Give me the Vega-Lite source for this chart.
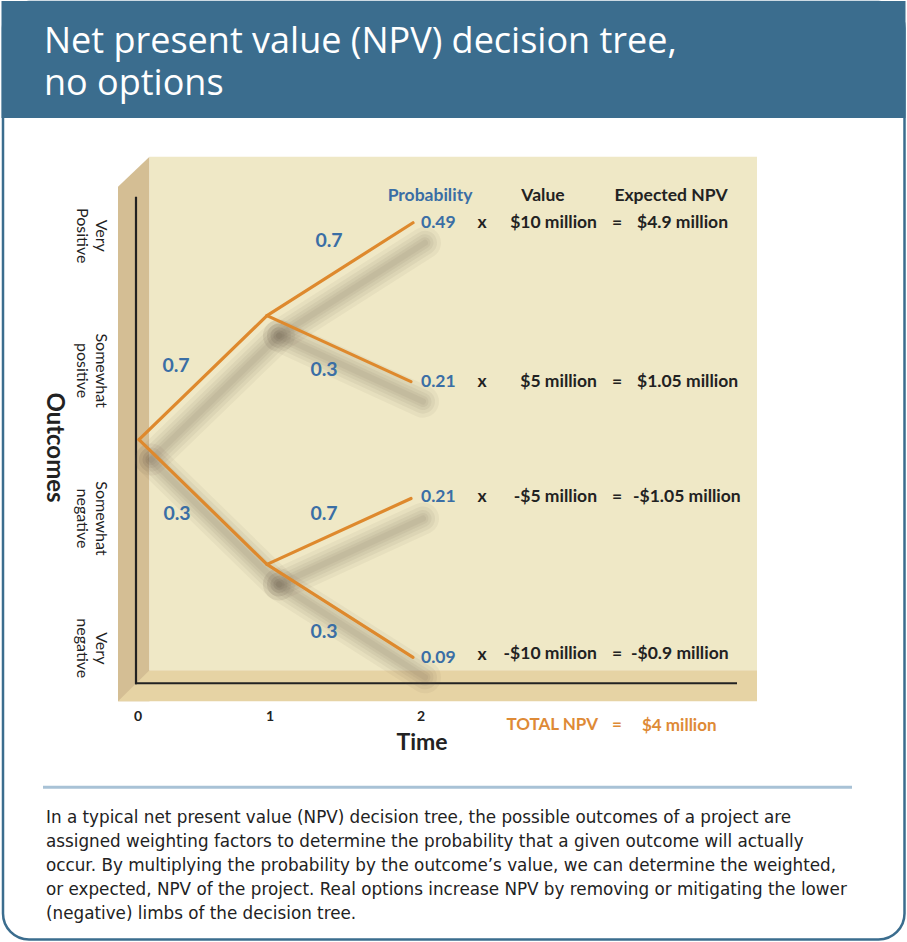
{
  "$schema": "https://vega.github.io/schema/vega-lite/v6.json",
  "width": 907,
  "height": 942,
  "autosize": {"type": "fit", "contains": "padding"},
  "padding": 0,
  "background": "white",
  "config": {"view": {"stroke": null}},
  "datasets": {
    "frame": [{"x": 3, "x2": 904.5, "y": 1, "y2": 939.5}],
    "banner": [{"x": 1.5, "x2": 905.5, "y": 0, "y2": 117}],
    "title": [
      {"x": 44, "y": 52, "text": "Net present value (NPV) decision tree,"},
      {"x": 44, "y": 94, "text": "no options"}
    ],
    "wall": [
      {"x": 118, "y": 186, "y2": 701},
      {"x": 149.5, "y": 156, "y2": 701}
    ],
    "panel": [{"x": 149.5, "x2": 757, "y": 156, "y2": 670}],
    "floor": [
      {"x": 118, "y": 701, "y2": 701},
      {"x": 149.5, "y": 670, "y2": 701},
      {"x": 757, "y": 670, "y2": 701}
    ],
    "axes": [
      {"x": 136, "y": 196, "x2": 136, "y2": 684},
      {"x": 135, "y": 683, "x2": 737, "y2": 683}
    ],
    "branches": [
      {"x": 139, "y": 439, "x2": 267, "y2": 315},
      {"x": 267, "y": 315, "x2": 413, "y2": 222},
      {"x": 267, "y": 315, "x2": 411, "y2": 381},
      {"x": 139, "y": 439, "x2": 267, "y2": 564},
      {"x": 267, "y": 564, "x2": 411, "y2": 498},
      {"x": 267, "y": 564, "x2": 413, "y2": 657}
    ],
    "branchLabels": [
      {"x": 329, "y": 246, "text": "0.7"},
      {"x": 176, "y": 371, "text": "0.7"},
      {"x": 324, "y": 375, "text": "0.3"},
      {"x": 177, "y": 520, "text": "0.3"},
      {"x": 324, "y": 520, "text": "0.7"},
      {"x": 324, "y": 638, "text": "0.3"}
    ],
    "probs": [
      {"x": 421, "y": 227, "text": "0.49"},
      {"x": 421, "y": 386, "text": "0.21"},
      {"x": 421, "y": 502, "text": "0.21"},
      {"x": 421, "y": 663, "text": "0.09"}
    ],
    "probHeader": [{"x": 430, "y": 200, "text": "Probability"}],
    "centerDark": [
      {"x": 543, "y": 200, "text": "Value"},
      {"x": 671, "y": 200, "text": "Expected NPV"},
      {"x": 482, "y": 227, "text": "x"},
      {"x": 482, "y": 386, "text": "x"},
      {"x": 482, "y": 502, "text": "x"},
      {"x": 482, "y": 660, "text": "x"},
      {"x": 617, "y": 227, "text": "="},
      {"x": 617, "y": 386, "text": "="},
      {"x": 617, "y": 502, "text": "="},
      {"x": 617, "y": 659, "text": "="}
    ],
    "values": [
      {"x": 597, "y": 227, "text": "$10 million"},
      {"x": 597, "y": 386, "text": "$5 million"},
      {"x": 597, "y": 502, "text": "-$5 million"},
      {"x": 597, "y": 659, "text": "-$10 million"}
    ],
    "expected": [
      {"x": 637, "y": 227, "text": "$4.9 million"},
      {"x": 637, "y": 386, "text": "$1.05 million"},
      {"x": 633, "y": 502, "text": "-$1.05 million"},
      {"x": 631, "y": 659, "text": "-$0.9 million"}
    ],
    "ticks": [
      {"x": 138, "y": 721, "text": "0"},
      {"x": 270, "y": 721, "text": "1"},
      {"x": 421, "y": 721, "text": "2"}
    ],
    "timeTitle": [{"x": 422, "y": 750, "text": "Time"}],
    "outcomes": [
      {"x": 101, "y": 235, "text": "Very\nPositive"},
      {"x": 101, "y": 370, "text": "Somewhat\npositive"},
      {"x": 101, "y": 518, "text": "Somewhat\nnegative"},
      {"x": 101, "y": 648, "text": "Very\nnegative"}
    ],
    "outcomesTitle": [{"x": 54, "y": 447, "text": "Outcomes"}],
    "totalRight": [{"x": 598, "y": 730, "text": "TOTAL NPV"}],
    "totalCenter": [{"x": 617, "y": 730, "text": "="}],
    "totalLeft": [{"x": 642, "y": 731, "text": "$4 million"}],
    "divider": [{"x": 43, "x2": 852, "y": 787, "y2": 787}],
    "caption": [
      {"x": 46, "y": 823, "text": "In a typical net present value (NPV) decision tree, the possible outcomes of a project are"},
      {"x": 46, "y": 847, "text": "assigned weighting factors to determine the probability that a given outcome will actually"},
      {"x": 46, "y": 871, "text": "occur. By multiplying the probability by the outcome’s value, we can determine the weighted,"},
      {"x": 46, "y": 895, "text": "or expected, NPV of the project. Real options increase NPV by removing or mitigating the lower"},
      {"x": 46, "y": 919, "text": "(negative) limbs of the decision tree."}
    ]
  },
  "encoding": {
    "x": {"field": "x", "type": "quantitative", "scale": {"domain": [0, 907], "nice": false, "zero": false}, "axis": null},
    "y": {"field": "y", "type": "quantitative", "scale": {"domain": [0, 942], "nice": false, "zero": false, "reverse": true}, "axis": null}
  },
  "layer": [
    {"data": {"name": "frame"}, "mark": {"type": "rect", "cornerRadius": 26, "fill": "white", "stroke": "#3b6d8e", "strokeWidth": 2.5},
     "encoding": {"x2": {"field": "x2"}, "y2": {"field": "y2"}}},
    {"data": {"name": "banner"}, "mark": {"type": "rect", "fill": "#3b6d8e"},
     "encoding": {"x2": {"field": "x2"}, "y2": {"field": "y2"}}},
    {"data": {"name": "title"}, "mark": {"type": "text", "align": "left", "baseline": "alphabetic", "font": "Open Sans", "fontSize": 36, "color": "white"},
     "encoding": {"text": {"field": "text"}}},
    {"data": {"name": "wall"}, "mark": {"type": "area", "orient": "vertical", "color": "#d4be94"},
     "encoding": {"y2": {"field": "y2"}}},
    {"data": {"name": "panel"}, "mark": {"type": "rect", "fill": "#efe8c6"},
     "encoding": {"x2": {"field": "x2"}, "y2": {"field": "y2"}}},
    {"data": {"name": "floor"}, "mark": {"type": "area", "orient": "vertical", "color": "#e6d3a4"},
     "encoding": {"y2": {"field": "y2"}}},
    {"data": {"name": "axes"}, "mark": {"type": "rule", "color": "#222222", "strokeWidth": 2.2},
     "encoding": {"x2": {"field": "x2"}, "y2": {"field": "y2"}}},
    {"data": {"name": "branches"}, "mark": {"type": "rule", "color": "#5e5a44", "opacity": 0.06, "strokeWidth": 32, "strokeCap": "round", "xOffset": 12, "x2Offset": 12, "yOffset": 20, "y2Offset": 20},
     "encoding": {"x2": {"field": "x2"}, "y2": {"field": "y2"}}},
    {"data": {"name": "branches"}, "mark": {"type": "rule", "color": "#5e5a44", "opacity": 0.07, "strokeWidth": 24, "strokeCap": "round", "xOffset": 12, "x2Offset": 12, "yOffset": 20, "y2Offset": 20},
     "encoding": {"x2": {"field": "x2"}, "y2": {"field": "y2"}}},
    {"data": {"name": "branches"}, "mark": {"type": "rule", "color": "#5e5a44", "opacity": 0.07, "strokeWidth": 17, "strokeCap": "round", "xOffset": 12, "x2Offset": 12, "yOffset": 20, "y2Offset": 20},
     "encoding": {"x2": {"field": "x2"}, "y2": {"field": "y2"}}},
    {"data": {"name": "branches"}, "mark": {"type": "rule", "color": "#5e5a44", "opacity": 0.07, "strokeWidth": 11, "strokeCap": "round", "xOffset": 12, "x2Offset": 12, "yOffset": 20, "y2Offset": 20},
     "encoding": {"x2": {"field": "x2"}, "y2": {"field": "y2"}}},
    {"data": {"name": "branches"}, "mark": {"type": "rule", "color": "#5e5a44", "opacity": 0.07, "strokeWidth": 6, "strokeCap": "round", "xOffset": 12, "x2Offset": 12, "yOffset": 20, "y2Offset": 20},
     "encoding": {"x2": {"field": "x2"}, "y2": {"field": "y2"}}},
    {"data": {"name": "branches"}, "mark": {"type": "rule", "color": "#de892d", "strokeWidth": 3.2, "strokeCap": "round"},
     "encoding": {"x2": {"field": "x2"}, "y2": {"field": "y2"}}},
    {"data": {"name": "branchLabels"}, "mark": {"type": "text", "align": "center", "baseline": "alphabetic", "font": "Lato", "fontWeight": "bold", "fontSize": 19.5, "color": "#3a6ea5"},
     "encoding": {"text": {"field": "text"}}},
    {"data": {"name": "probs"}, "mark": {"type": "text", "align": "left", "baseline": "alphabetic", "font": "Lato", "fontWeight": "bold", "fontSize": 17.5, "color": "#3a6ea5"},
     "encoding": {"text": {"field": "text"}}},
    {"data": {"name": "probHeader"}, "mark": {"type": "text", "align": "center", "baseline": "alphabetic", "font": "Lato", "fontWeight": "bold", "fontSize": 17.5, "color": "#3a6ea5"},
     "encoding": {"text": {"field": "text"}}},
    {"data": {"name": "centerDark"}, "mark": {"type": "text", "align": "center", "baseline": "alphabetic", "font": "Lato", "fontWeight": "bold", "fontSize": 17.5, "color": "#222222"},
     "encoding": {"text": {"field": "text"}}},
    {"data": {"name": "values"}, "mark": {"type": "text", "align": "right", "baseline": "alphabetic", "font": "Lato", "fontWeight": "bold", "fontSize": 17.5, "color": "#222222"},
     "encoding": {"text": {"field": "text"}}},
    {"data": {"name": "expected"}, "mark": {"type": "text", "align": "left", "baseline": "alphabetic", "font": "Lato", "fontWeight": "bold", "fontSize": 17.5, "color": "#222222"},
     "encoding": {"text": {"field": "text"}}},
    {"data": {"name": "ticks"}, "mark": {"type": "text", "align": "center", "baseline": "alphabetic", "font": "Lato", "fontWeight": "bold", "fontSize": 14, "color": "#222222"},
     "encoding": {"text": {"field": "text"}}},
    {"data": {"name": "timeTitle"}, "mark": {"type": "text", "align": "center", "baseline": "alphabetic", "font": "Lato", "fontWeight": "bold", "fontSize": 23, "color": "#222222"},
     "encoding": {"text": {"field": "text"}}},
    {"data": {"name": "outcomes"}, "mark": {"type": "text", "align": "center", "baseline": "middle", "angle": 90, "lineBreak": "\n", "lineHeight": 19, "font": "Lato", "fontSize": 16, "color": "#222222"},
     "encoding": {"text": {"field": "text"}}},
    {"data": {"name": "outcomesTitle"}, "mark": {"type": "text", "align": "center", "baseline": "middle", "angle": 90, "font": "Lato", "fontWeight": "bold", "fontSize": 24, "color": "#222222"},
     "encoding": {"text": {"field": "text"}}},
    {"data": {"name": "totalRight"}, "mark": {"type": "text", "align": "right", "baseline": "alphabetic", "font": "Lato", "fontWeight": "bold", "fontSize": 17, "color": "#de8a36"},
     "encoding": {"text": {"field": "text"}}},
    {"data": {"name": "totalCenter"}, "mark": {"type": "text", "align": "center", "baseline": "alphabetic", "font": "Lato", "fontWeight": "bold", "fontSize": 17, "color": "#de8a36"},
     "encoding": {"text": {"field": "text"}}},
    {"data": {"name": "totalLeft"}, "mark": {"type": "text", "align": "left", "baseline": "alphabetic", "font": "Lato", "fontWeight": "bold", "fontSize": 17, "color": "#de8a36"},
     "encoding": {"text": {"field": "text"}}},
    {"data": {"name": "divider"}, "mark": {"type": "rule", "color": "#a8c2d6", "strokeWidth": 3},
     "encoding": {"x2": {"field": "x2"}, "y2": {"field": "y2"}}},
    {"data": {"name": "caption"}, "mark": {"type": "text", "align": "left", "baseline": "alphabetic", "font": "DejaVu Sans", "fontSize": 16.8, "color": "#222222"},
     "encoding": {"text": {"field": "text"}}}
  ]
}
